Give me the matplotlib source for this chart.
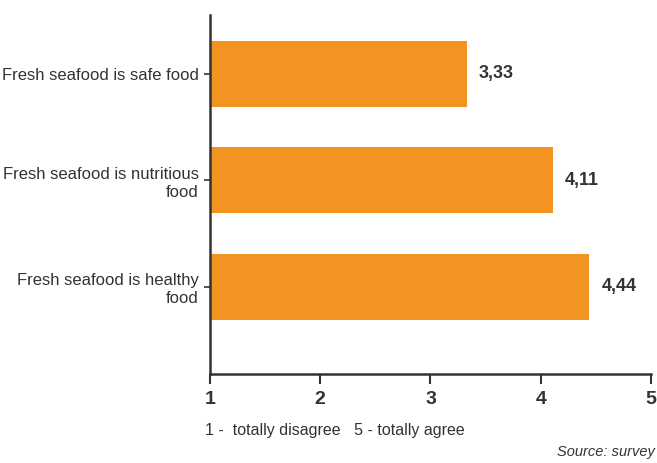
import matplotlib.pyplot as plt

plt.rcParams['font.family'] = ['Liberation Sans', 'DejaVu Sans']

statements = ["Fresh seafood is safe food",
              "Fresh seafood is nutritious\nfood",
              "Fresh seafood is healthy\nfood"]
scores = [3.33, 4.11, 4.44]
value_labels = ["3,33", "4,11", "4,44"]
scale_ticks = [1, 2, 3, 4, 5]

bar_color = "#F39422"
ink = "#333333"

fig = plt.figure(figsize=(6.57, 4.63), dpi=100)
ax = fig.add_axes([0.3196, 0.1922, 0.6712, 0.7754])

ypos = range(len(statements))
ax.barh(ypos, [s - 1 for s in scores], left=1, height=0.62, color=bar_color)
for y, s, lab in zip(ypos, scores, value_labels):
    ax.text(s + 0.11, y, lab, va="center", ha="left", fontsize=13,
            fontweight="bold", color=ink)

ax.set_xlim(1, 5)
ax.set_ylim(2.82, -0.55)
ax.set_xticks(scale_ticks)
ax.set_xticklabels([str(t) for t in scale_ticks], fontsize=14, fontweight="bold", color=ink)
ax.set_yticks(list(ypos))
ax.set_yticklabels(statements, fontsize=12, color=ink, linespacing=1.25)

for side in ("top", "right"):
    ax.spines[side].set_visible(False)
for side in ("left", "bottom"):
    ax.spines[side].set_color(ink)
    ax.spines[side].set_linewidth(1.8)
ax.tick_params(axis="x", length=7, width=1.5, color=ink, pad=5)
ax.tick_params(axis="y", length=4, width=1.2, color=ink, pad=4)

fig.text(205 / 657, 1 - 431 / 463, "1 -  totally disagree   5 - totally agree",
         fontsize=11.5, color=ink, va="center", ha="left")
fig.text(655 / 657, 1 - 452 / 463, "Source: survey", fontsize=10.5, style="italic",
         color=ink, va="center", ha="right")

fig.savefig("out.png", dpi=100)
